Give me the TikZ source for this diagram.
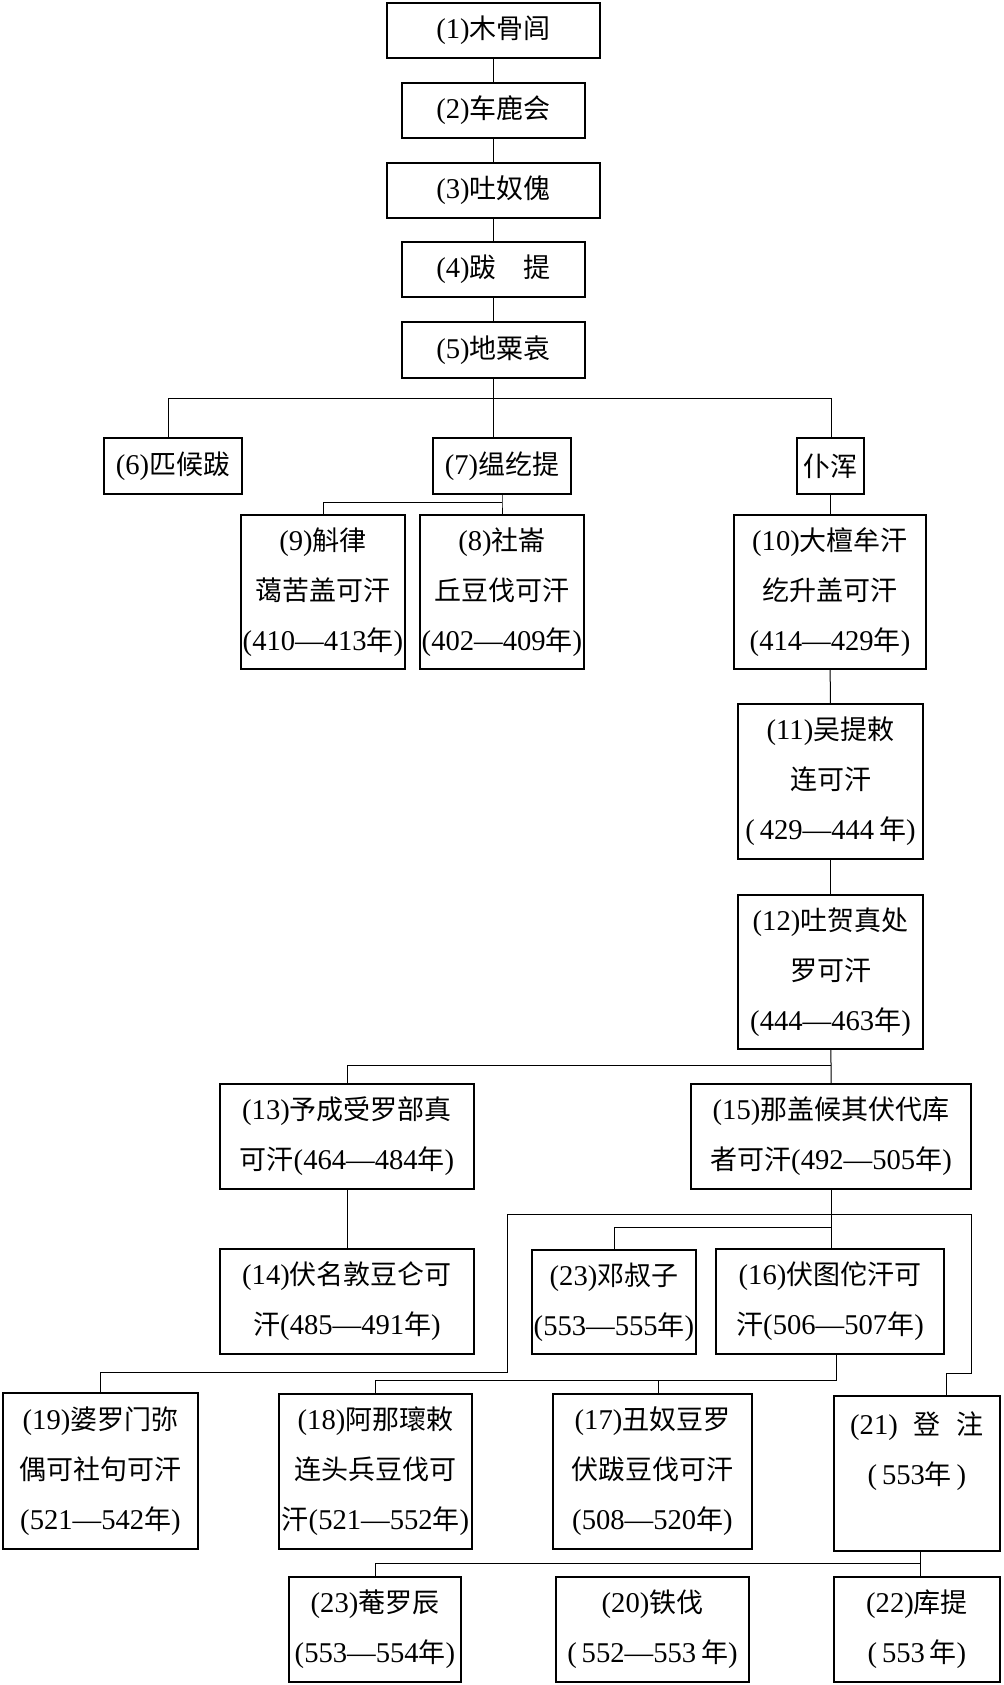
\documentclass[tikz,border=0pt]{standalone}
\usepackage{fontspec}
\setmainfont{Liberation Serif}[Scale=1.06]
\newfontfamily\cjk{Noto Sans CJK SC}
\newcommand\nm[1]{{\rmfamily#1}}

\tikzset{
  box/.style={draw, line width=0.75pt, inner sep=0pt, align=center,
    font=\cjk\fontsize{13.5}{25}\selectfont},
  link/.style={line width=0.5pt},
}

\begin{document}
\begin{tikzpicture}[x=0.5pt, y=-0.5pt]
  \useasboundingbox (0,0) rectangle (1004,1685);
  % first five generations
  \node[box, minimum width=106.5pt, minimum height=27.5pt] (b1) at (493.5,30.5) {\nm{(1)}木骨闾};
  \node[box, minimum width=91.5pt, minimum height=27.5pt] (b2) at (493.5,110.5) {\nm{(2)}车鹿会};
  \node[box, minimum width=106.5pt, minimum height=27.5pt] (b3) at (493.5,190.5) {\nm{(3)}吐奴傀};
  \node[box, minimum width=91.5pt, minimum height=27.5pt] (b4) at (493.5,269.5) {\nm{(4)}跋\hspace{1em}提};
  \node[box, minimum width=91.5pt, minimum height=28pt] (b5) at (493.5,350) {\nm{(5)}地粟袁};
  % sons of (5)
  \node[box, minimum width=69pt, minimum height=28pt] (b6) at (173,466) {\nm{(6)}匹候跋};
  \node[box, minimum width=69pt, minimum height=28pt] (b7) at (502,466) {\nm{(7)}缊纥提};
  \node[box, minimum width=33.5pt, minimum height=28pt] (ph) at (830.5,466) {仆浑};
  \node[box, minimum width=82pt, minimum height=77pt] (b9) at (323,592) {\nm{(9)}斛律\\蔼苦盖可汗\\\nm{(410—413}年\nm{)}};
  \node[box, minimum width=82pt, minimum height=77pt] (b8) at (502,592) {\nm{(8)}社崙\\丘豆伐可汗\\\nm{(402—409}年\nm{)}};
  \node[box, minimum width=96pt, minimum height=77pt] (b10) at (830,592) {\nm{(10)}大檀牟汗\\纥升盖可汗\\\nm{(414—429}年\nm{)}};
  \node[box, minimum width=92.5pt, minimum height=77.5pt] (b11) at (830.5,781.5) {\nm{(11)}吴提敕\\连可汗\\\nm{(\,429—444\,}年\nm{)}};
  \node[box, minimum width=92.5pt, minimum height=77pt] (b12) at (830.5,972) {\nm{(12)}吐贺真处\\罗可汗\\\nm{(444—463}年\nm{)}};
  % sons of (12)
  \node[box, minimum width=127pt, minimum height=52.5pt] (b13) at (347,1136.5) {\nm{(13)}予成受罗部真\\可汗\nm{(464—484}年\nm{)}};
  \node[box, minimum width=140pt, minimum height=52.5pt] (b15) at (831,1136.5) {\nm{(15)}那盖候其伏代库\\者可汗\nm{(492—505}年\nm{)}};
  \node[box, minimum width=127pt, minimum height=52.5pt] (b14) at (347,1301.5) {\nm{(14)}伏名敦豆仑可\\汗\nm{(485—491}年\nm{)}};
  \node[box, minimum width=82pt, minimum height=52pt] (b23a) at (614,1302) {\nm{(23)}邓叔子\\\nm{(553—555}年\nm{)}};
  \node[box, minimum width=114pt, minimum height=52.5pt] (b16) at (830,1301.5) {\nm{(16)}伏图佗汗可\\汗\nm{(506—507}年\nm{)}};
  % last generations
  \node[box, minimum width=97.5pt, minimum height=78pt] (b19) at (100.5,1471) {\nm{(19)}婆罗门弥\\偶可社句可汗\\\nm{(521—542}年\nm{)}};
  \node[box, minimum width=96.5pt, minimum height=77.5pt] (b18) at (375.5,1471.5) {\nm{(18)}阿那瓌敕\\连头兵豆伐可\\汗\nm{(521—552}年\nm{)}};
  \node[box, minimum width=99.5pt, minimum height=77.5pt] (b17) at (652.5,1471.5) {\nm{(17)}丑奴豆罗\\伏跋豆伐可汗\\\nm{(508—520}年\nm{)}};
  \node[box, minimum width=83pt, minimum height=77.5pt] (b21) at (917,1473.5) {\nm{(21)}\hspace{8pt}登\hspace{8pt}注\\\nm{(\,553}年\nm{\,)}\\~};
  \node[box, minimum width=86pt, minimum height=52.5pt] (b23b) at (375,1629.5) {\nm{(23)}菴罗辰\\\nm{(553—554}年\nm{)}};
  \node[box, minimum width=96.5pt, minimum height=52.5pt] (b20) at (652.5,1629.5) {\nm{(20)}铁伐\\\nm{(\,552—553\,}年\nm{)}};
  \node[box, minimum width=83pt, minimum height=52.5pt] (b22) at (917,1629.5) {\nm{(22)}库提\\\nm{(\,553\,}年\nm{)}};

  % bends
  \coordinate (fork5) at (493.5,398);
  \coordinate (k6) at (168,398);
  \coordinate (k10) at (831,398);
  \coordinate (fork7) at (502,502);
  \coordinate (fork12) at (831,1065);
  \coordinate (outer) at (831,1214);
  \coordinate (inner) at (831,1227);
  \coordinate (o19) at (507,1372);
  \coordinate (o21) at (971,1373);
  \coordinate (k21) at (946,1373);
  \coordinate (f16) at (836,1380);
  \coordinate (k17) at (658,1380);
  \coordinate (f21) at (920,1563);

  % lines
  \draw[link] (b1) -- (b2);
  \draw[link] (b2) -- (b3);
  \draw[link] (b3) -- (b4);
  \draw[link] (b4) -- (b5);
  \draw[link] (b5) -- (fork5) -- (fork5 |- b7.north);
  \draw[link] (k6 |- b6.north) -- (k6) -- (k10) -- (k10 |- ph.north);
  \draw[link] (b7) -- (fork7) -- (fork7 |- b8.north);
  \draw[link] (fork7) -| (b9.north);
  \draw[link] (ph) -- (ph |- b10.north);
  \draw[link] (b10) -- (b11);
  \draw[link] (b11) -- (b12);
  \draw[link] (b12) -- (fork12) -- (fork12 |- b15.north);
  \draw[link] (fork12) -| (b13.north);
  \draw[link] (b13) -- (b14);
  \draw[link] (b15) -- (outer) -- (inner) -- (inner |- b16.north);
  \draw[link] (inner) -| (b23a.north);
  \draw[link] (b19.north) |- (o19) |- (outer) -| (o21) -- (k21) -- (k21 |- b21.north);
  \draw[link] (f16 |- b16.south) -- (f16) -| (b18.north);
  \draw[link] (k17) -- (k17 |- b17.north);
  \draw[link] (f21 |- b21.south) -- (f21) -| (b23b.north);
  \draw[link] (f21) -- (f21 |- b22.north);
\end{tikzpicture}
\end{document}
